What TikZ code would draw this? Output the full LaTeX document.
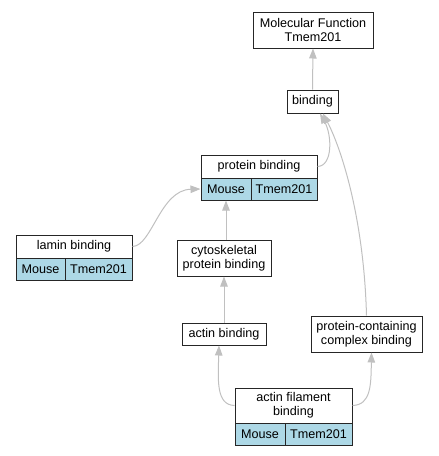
\documentclass[tikz,border=0pt]{standalone}
\usepackage{fontspec}
\setmainfont{Liberation Sans}
\usetikzlibrary{arrows.meta,calc}
\definecolor{edgegray}{HTML}{C0C0C0}
\definecolor{cellblue}{HTML}{ADD8E6}
\tikzset{
  box/.style={draw=black!85, line width=1pt, fill=white, inner sep=0pt, align=center,
    font=\fontsize{12.6}{14}\selectfont},
  cell/.style={box, fill=cellblue},
  edge/.style={draw=edgegray, line width=1pt, -{Triangle[length=10pt,width=7.5pt]}},
}
\begin{document}
\begin{tikzpicture}[x=1pt,y=-1pt]
\useasboundingbox (0,0) rectangle (439,456);
% plain nodes
\node[box, minimum width=120, minimum height=36] (mf) at (313,30) {Molecular Function\\Tmem201};
\node[box, minimum width=51, minimum height=23] (bind) at (312.5,101.5) {binding};
\node[box, minimum width=94, minimum height=36] (cyto) at (224,258) {cytoskeletal\\protein binding};
\node[box, minimum width=84, minimum height=22] (ab) at (224,334) {actin binding};
\node[box, minimum width=111, minimum height=36] (pcc) at (366.5,334) {protein-containing\\complex binding};
% protein binding record
\node[box, minimum width=116, minimum height=23] (pb) at (259,166.5) {protein binding};
\node[cell, minimum width=50, minimum height=22] (pbm) at (226,189) {Mouse};
\node[cell, minimum width=66, minimum height=22] (pbt) at (284,189) {Tmem201};
% lamin binding record
\node[box, minimum width=116, minimum height=23] (lb) at (74,246.5) {lamin binding};
\node[cell, minimum width=49, minimum height=22] (lbm) at (40.5,269) {Mouse};
\node[cell, minimum width=67, minimum height=22] (lbt) at (98.5,269) {Tmem201};
% actin filament binding record
\node[box, minimum width=117, minimum height=35] (af) at (293.5,405.5) {actin filament\\binding};
\node[cell, minimum width=50, minimum height=22] (afm) at (260,434) {Mouse};
\node[cell, minimum width=67, minimum height=22] (aft) at (318.5,434) {Tmem201};
% edges
\draw[edge] (bind.north) -- (mf.south);
\draw[edge] (pb.east) .. controls (333,166) and (332,135) .. ($(bind.south)+(7.5,0)$);
\draw[edge] (pcc.north) .. controls (364,220) and (342,150) .. ($(bind.south)+(10.5,0)$);
\draw[edge] (lb.east) .. controls (152,246) and (160,190) .. (pbm.west);
\draw[edge] (cyto.north -| pbm) -- (pbm.south);
\draw[edge] (ab.north) -- (cyto.south);
\draw[edge] (af.west) .. controls (216,405) and (218,380) .. ($(ab.south)+(-5,0)$);
\draw[edge] (af.east) .. controls (371,405) and (371,385) .. ($(pcc.south)+(5,0)$);
\end{tikzpicture}
\end{document}
